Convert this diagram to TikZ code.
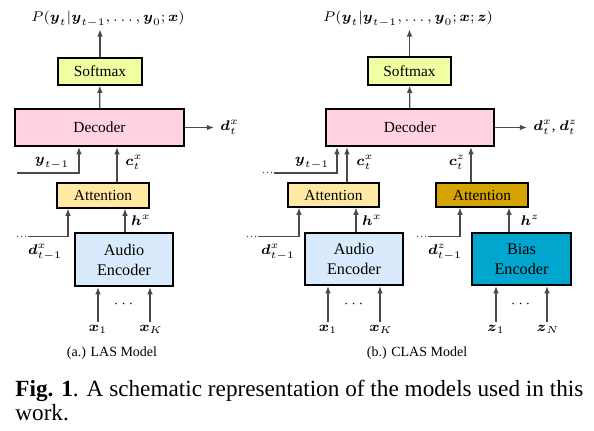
\documentclass[tikz,border=0pt]{standalone}
\usepackage{amsmath,amssymb}
\usepackage{fontspec}
\setmainfont{Liberation Serif}
\usepackage{tikz}
\usetikzlibrary{arrows.meta,positioning,calc}
\definecolor{smfill}{HTML}{F1FFA3}
\definecolor{decfill}{HTML}{FFD1E1}
\definecolor{attfill}{HTML}{FFE9A3}
\definecolor{biasatt}{HTML}{D6A400}
\definecolor{audfill}{HTML}{D8EAFB}
\definecolor{biasfill}{HTML}{00A6CE}
\definecolor{lnc}{HTML}{4A4A4A}
\newcommand{\vx}{\boldsymbol{x}}
\newcommand{\vy}{\boldsymbol{y}}
\newcommand{\vz}{\boldsymbol{z}}
\newcommand{\vc}{\boldsymbol{c}}
\newcommand{\vd}{\boldsymbol{d}}
\newcommand{\vh}{\boldsymbol{h}}

\begin{document}
\begin{tikzpicture}[x=0.5pt,y=-0.5pt,font=\fontsize{7.7}{9}\selectfont,>=Latex]
\tikzset{box/.style={draw=black,line width=0.6pt,inner sep=1pt,align=center}, bigbox/.style={box,line width=1.1pt}, encbox/.style={bigbox,font=\fontsize{8.1}{10}\selectfont}, a/.style={-{Latex[length=3.6pt,width=2.8pt]},line width=0.6pt,color=lnc}, lbl/.style={inner sep=1pt,font=\fontsize{7.4}{9}\selectfont}, dts/.style={inner sep=0pt,font=\fontsize{6}{7}\selectfont,text=lnc}, subcap/.style={inner sep=0pt,font=\fontsize{7}{8}\selectfont}}
\useasboundingbox (0,0) rectangle (594,430);
% (a.) LAS
\node[bigbox,fill=decfill,minimum width=84.5pt,minimum height=18.5pt] (dec1) at (99.5,127.5) {Decoder};
\node[box,fill=smfill,minimum width=42pt,minimum height=13.5pt] (sm1) at (100,71.5) {Softmax};
\node[box,fill=attfill,minimum width=46pt,minimum height=12.5pt] (att1) at (103,195.5) {Attention};
\node[encbox,fill=audfill,minimum width=49pt,minimum height=26.5pt] (enc1) at (124,259.5) {Audio\\Encoder};
\node[lbl] (p1) at (108,19) {$P(\vy_t|\vy_{t-1},\ldots,\vy_0;\vx)$};
\node[lbl,anchor=west] (dt1) at (218,127.5) {$\vd_t^x$};
\draw[a] (dec1)--(sm1);\draw[a] (sm1)--(sm1|-p1.south);\draw[a] (dec1.east)--([xshift=-2pt]dt1.west);
\coordinate (yl1) at (17,173);
\draw[a] (yl1) -| ([xshift=-10.25pt]dec1.south);
\node[lbl] at (52,163) {$\vy_{t-1}$};
\draw[a] ([xshift=7pt]att1.north)--([xshift=7pt]att1.north|-dec1.south);
\node[lbl] at (134,162) {$\vc_t^x$};
\draw[a] ([xshift=0.5pt]enc1.north)--([xshift=0.5pt]enc1.north|-att1.south);
\node[lbl] at (141,220) {$\vh^x$};
\node[dts,anchor=east] (dl1) at (28,236.5) {\ldots};
\draw[a] (dl1.east) -| ([xshift=-17.5pt]att1.south);
\node[lbl] at (45,252) {$\vd_{t-1}^x$};
\node[lbl] (x1) at (98,329) {$\vx_1$};
\node[lbl] (xk1) at (151,329) {$\vx_K$};
\draw[a] (x1)--(x1|-enc1.south);\draw[a] (xk1.north-|150,0)--(150,0|-enc1.south);
\node[lbl] at (125,304) {$\cdots$};
\node[subcap] at (112,353) {(a.) LAS Model};
% (b.) CLAS
\node[bigbox,fill=decfill,minimum width=84pt,minimum height=18.5pt] (dec2) at (410,127.5) {Decoder};
\node[box,fill=smfill,minimum width=41.5pt,minimum height=14pt] (sm2) at (409.5,71) {Softmax};
\node[box,fill=attfill,minimum width=45.5pt,minimum height=12pt] (att2) at (333.5,195) {Attention};
\node[box,fill=biasatt,minimum width=46pt,minimum height=12pt] (att3) at (482,195) {Attention};
\node[encbox,fill=audfill,minimum width=49pt,minimum height=26pt] (enc2) at (354,259) {Audio\\Encoder};
\node[encbox,fill=biasfill,minimum width=49.5pt,minimum height=26pt] (enc3) at (521.5,259) {Bias\\Encoder};
\node[lbl] (p2) at (408,19) {$P(\vy_t|\vy_{t-1},\ldots,\vy_0;\vx;\vz)$};
\node[lbl,anchor=west] (dt2) at (531,127.5) {$\vd_t^x$, $\vd_t^z$};
\draw[a] (dec2)--(sm2);\draw[a] (sm2)--(sm2|-p2.south);\draw[a] (dec2.east)--([xshift=-2pt]dt2.west);
\node[dts,anchor=east] (yl2) at (274,173) {\ldots};
\draw[a] (yl2.east) -| ([xshift=-36.5pt]dec2.south);
\node[lbl] at (312,163) {$\vy_{t-1}$};
\draw[a] ([xshift=6.75pt]att2.north)--([xshift=6.75pt]att2.north|-dec2.south);
\node[lbl] at (365,162) {$\vc_t^x$};
\draw[a] ([xshift=-5.5pt]att3.north)--([xshift=-5.5pt]att3.north|-dec2.south);
\node[lbl] at (457,162) {$\vc_t^z$};
\draw[a] ([xshift=1pt]enc2.north)--([xshift=1pt]enc2.north|-att2.south);
\node[lbl] at (372,220) {$\vh^x$};
\draw[a] ([xshift=-6.25pt]enc3.north)--([xshift=-6.25pt]enc3.north|-att3.south);
\node[lbl] at (530,220) {$\vh^z$};
\node[dts,anchor=east] (dl2) at (258,236.5) {\ldots};
\draw[a] (dl2.east) -| ([xshift=-17.25pt]att2.south);
\node[lbl] at (278,252) {$\vd_{t-1}^x$};
\node[dts,anchor=east] (dl3) at (428,236.5) {\ldots};
\draw[a] (dl3.east) -| ([xshift=-11pt]att3.south);
\node[lbl] at (445,252) {$\vd_{t-1}^z$};
\node[lbl] (x2) at (328,329) {$\vx_1$};
\node[lbl] (xk2) at (381,329) {$\vx_K$};
\draw[a] (x2)--(x2|-enc2.south);\draw[a] (xk2.north-|380,0)--(380,0|-enc2.south);
\node[lbl] at (355,304) {$\cdots$};
\node[lbl] (z1) at (496,329) {$\vz_1$};
\node[lbl] (zn) at (548,329) {$\vz_N$};
\draw[a] (z1)--(z1|-enc3.south);\draw[a] (zn.north-|547,0)--(547,0|-enc3.south);
\node[lbl] at (522,304) {$\cdots$};
\node[subcap] at (417,353) {(b.) CLAS Model};
% caption
\node[anchor=base west,inner sep=0pt,text width=284pt,align=justify,font=\fontsize{11.6}{12}\selectfont] (fig) at (15,396) {\textbf{Fig. 1}. A schematic representation of the models used in this\linebreak work.};
\end{tikzpicture}
\end{document}
